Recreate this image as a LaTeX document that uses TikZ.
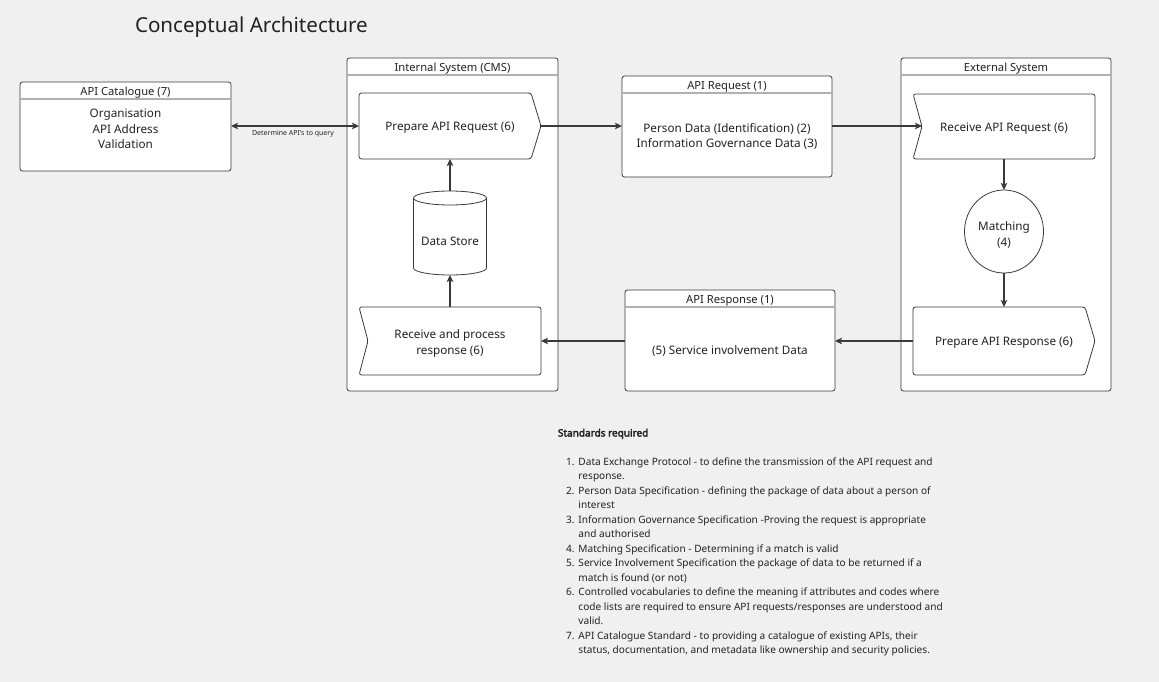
\documentclass[tikz,border=0pt]{standalone}
\usepackage{fontspec}
\setmainfont{Noto Sans}[AutoFakeBold=3.2]
\usetikzlibrary{arrows.meta,shapes.geometric,calc}
\definecolor{bgc}{HTML}{F0F0F0}
\definecolor{lnc}{HTML}{3A3A3A}
\definecolor{sepc}{HTML}{B0B0B0}
\definecolor{txc}{HTML}{222222}
\begin{document}
\begin{tikzpicture}[x=1pt,y=-1pt,
  every node/.style={text=txc, inner sep=0pt, outer sep=0pt},
  frame/.style={draw=lnc, fill=white, line width=0.8pt, rounded corners=2.5pt},
  sepline/.style={draw=sepc, line width=1.4pt},
  outl/.style={draw=lnc, line width=0.8pt, rounded corners=2.5pt},
  hfont/.style={font=\fontsize{11.2}{14}\selectfont},
  bfont/.style={font=\fontsize{11.7}{15.5}\selectfont, align=center},
  arr/.style={draw=lnc, line width=1.2pt, -{Stealth[length=7pt,width=6.5pt,inset=1.5pt]}},
  darr/.style={draw=lnc, line width=1.2pt, {Stealth[length=7pt,width=6.5pt,inset=1.5pt]}-{Stealth[length=7pt,width=6.5pt,inset=1.5pt]}}
]
\fill[bgc] (0,0) rectangle (1159,682);
\useasboundingbox (0,0) rectangle (1159,682);

% title
\node[font=\fontsize{20.6}{24}\selectfont, anchor=west] (title) at (135,27.5) {Conceptual Architecture};

% API catalogue
\node[frame, minimum width=211pt, minimum height=89pt] (cat) at (125.5,126.5) {};
\draw[sepline] ($(cat.north west)+(0.4,17)$) -- ($(cat.north east)+(-0.4,17)$);
\node[hfont] (catH) at ($(cat.north)+(0,11)$) {API Catalogue (7)};
\node[bfont] (catB) at (125.5,129) {Organisation\\API Address\\Validation};

% containers
\node[frame, minimum width=211pt, minimum height=333pt] (int) at (452.5,224.5) {};
\draw[sepline] ($(int.north west)+(0.4,17)$) -- ($(int.north east)+(-0.4,17)$);
\node[hfont] (intH) at ($(int.north)+(0,11)$) {Internal System (CMS)};

\node[frame, minimum width=210pt, minimum height=333pt] (ext) at (1006,224.5) {};
\draw[sepline] ($(ext.north west)+(0.4,17)$) -- ($(ext.north east)+(-0.4,17)$);
\node[hfont] (extH) at ($(ext.north)+(0,11)$) {External System};

\node[frame, minimum width=210pt, minimum height=101pt] (req) at (727,126.5) {};
\draw[sepline] ($(req.north west)+(0.4,17)$) -- ($(req.north east)+(-0.4,17)$);
\node[hfont] (reqH) at ($(req.north)+(0,11)$) {API Request (1)};
\node[bfont] (reqB) at (727,136.5) {Person Data (Identification) (2)\\Information Governance Data (3)};

\node[frame, minimum width=210pt, minimum height=101pt] (resp) at (730,340.5) {};
\draw[sepline] ($(resp.north west)+(0.4,17)$) -- ($(resp.north east)+(-0.4,17)$);
\node[hfont] (respH) at ($(resp.north)+(0,11)$) {API Response (1)};
\node[bfont] (respB) at (730,351) {(5) Service involvement Data};

% chevrons
\node[minimum width=182pt, minimum height=66pt] (prep) at (450,126) {};
\draw[outl] ([xshift=-10pt]prep.north east) -- (prep.east) -- ([xshift=-10pt]prep.south east) -- (prep.south west) -- (prep.north west) -- cycle;
\node[bfont] (prepT) at ($(prep)+(0,1.8)$) {Prepare API Request (6)};

\node[minimum width=182pt, minimum height=68pt] (recv) at (450,341) {};
\draw[outl] (recv.north west) -- ([xshift=9pt]recv.west) -- (recv.south west) -- (recv.south east) -- (recv.north east) -- cycle;
\node[bfont] (recvT) at ($(recv)+(0,2.5)$) {Receive and process\\response (6)};

\node[minimum width=182pt, minimum height=65pt] (rreq) at (1004,126.5) {};
\draw[outl] (rreq.north west) -- ([xshift=9pt]rreq.west) -- (rreq.south west) -- (rreq.south east) -- (rreq.north east) -- cycle;
\node[bfont] (rreqT) at ($(rreq)+(0,1.8)$) {Receive API Request (6)};

\node[minimum width=182pt, minimum height=68pt] (presp) at (1004,341) {};
\draw[outl] ([xshift=-10pt]presp.north east) -- (presp.east) -- ([xshift=-10pt]presp.south east) -- (presp.south west) -- (presp.north west) -- cycle;
\node[bfont] (prespT) at ($(presp)+(0,2)$) {Prepare API Response (6)};

% data store cylinder
\node[minimum width=73pt, minimum height=84pt] (ds) at (450,233) {};
\draw[draw=lnc, line width=0.8pt] (413.5,198) -- (413.5,268) arc[start angle=180, end angle=0, x radius=36.5, y radius=7] -- (486.5,198);
\draw[draw=lnc, line width=0.8pt] (450,198) ellipse[x radius=36.5, y radius=7];
\node[bfont] (dsT) at (450,241.5) {Data Store};

% matching
\node[draw=lnc, line width=0.8pt, ellipse, minimum width=79pt, minimum height=83pt] (match) at (1004,231.5) {};
\node[bfont, font=\fontsize{11.7}{16}\selectfont] (matchT) at (1004,234.5) {Matching\\(4)};

% connectors
\draw[darr] (cat.east |- prep.west) -- (prep.west);
\node[font=\fontsize{7}{8}\selectfont] (detL) at (293,134) {Determine API's to query};
\draw[arr] (prep.east) -- (prep.east -| req.west);
\draw[arr] (prep.east -| req.east) -- ([xshift=9pt]rreq.west |- prep.east);
\draw[arr] (ds.north) -- (prep.south);
\draw[arr] (recv.north) -- (ds.south);
\draw[arr] (rreq.south) -- (match.north);
\draw[arr] (match.south) -- (presp.north);
\draw[arr] (presp.west) -- (presp.west -| resp.east);
\draw[arr] (recv.east -| resp.west) -- (recv.east);

% standards
\node[font=\fontsize{10}{12}\bfseries\selectfont, anchor=base west] (stdH) at (558,436.5) {Standards required};
\node[font=\fontsize{10.1}{14.46}\selectfont, anchor=base west] (stdL) at (566,465.5) {%
\begin{tabular}[t]{@{}r@{\hspace{4pt}}l@{}}
1. & Data Exchange Protocol - to define the transmission of the API request and\\
 & response.\\
2. & Person Data Specification - defining the package of data about a person of\\
 & interest\\
3. & Information Governance Specification -Proving the request is appropriate\\
 & and authorised\\
4. & Matching Specification - Determining if a match is valid\\
5. & Service Involvement Specification the package of data to be returned if a\\
 & match is found (or not)\\
6. & Controlled vocabularies to define the meaning if attributes and codes where\\
 & code lists are required to ensure API requests/responses are understood and\\
 & valid.\\
7. & API Catalogue Standard - to providing a catalogue of existing APIs, their\\
 & status, documentation, and metadata like ownership and security policies.
\end{tabular}};
\end{tikzpicture}
\end{document}
